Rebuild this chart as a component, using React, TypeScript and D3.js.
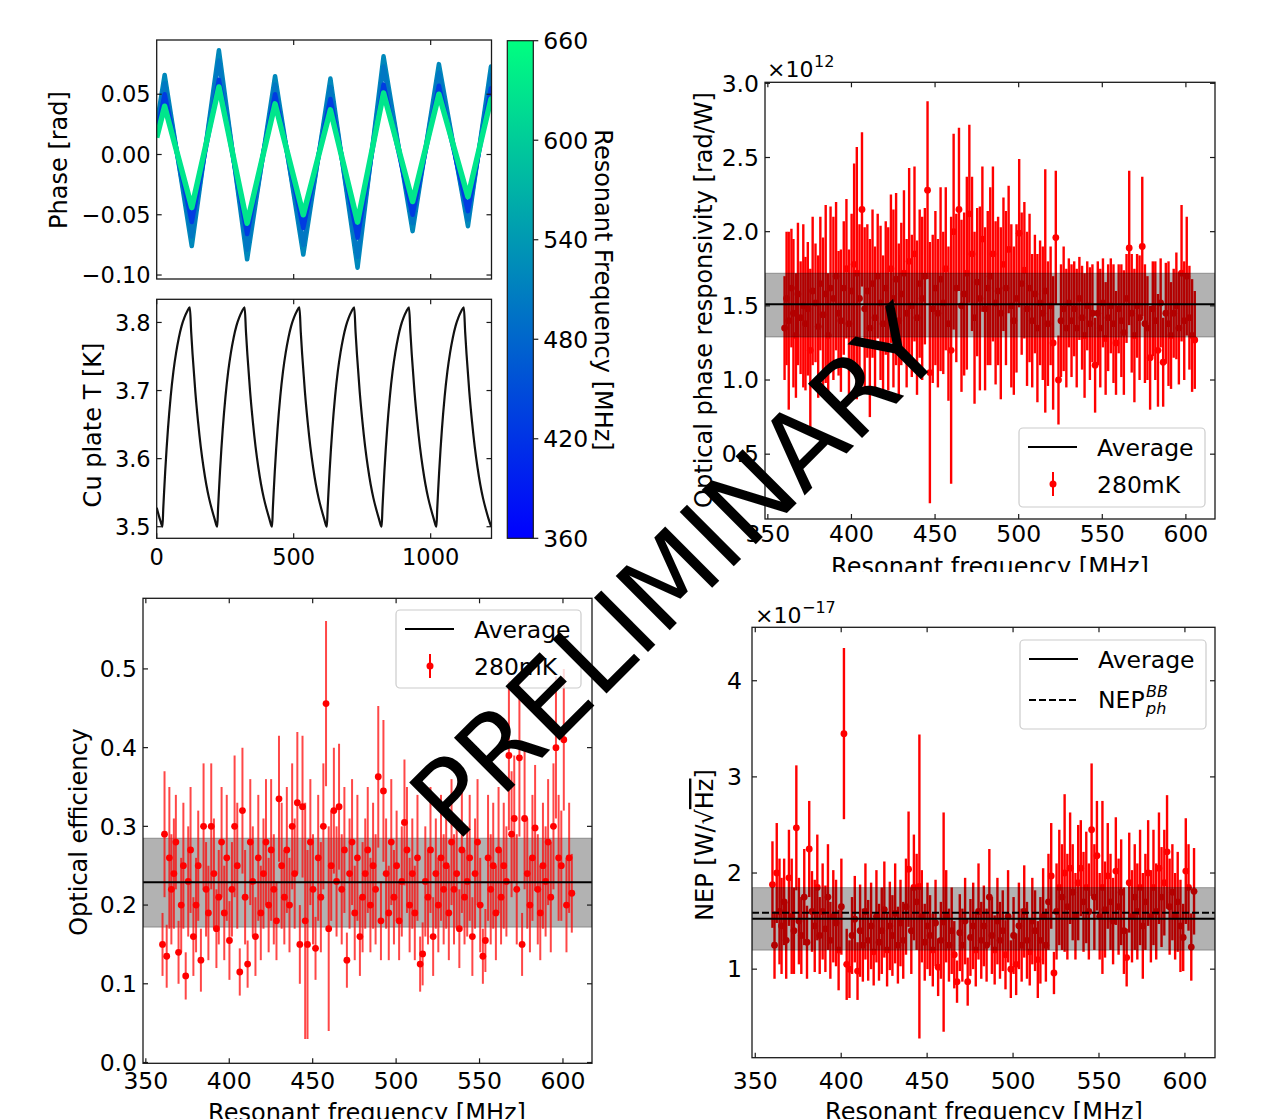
import React from 'react';
import * as d3 from 'd3';

const FONT = "'DejaVu Sans', 'Liberation Sans', sans-serif";

// ---------- Top-left: phase time stream (vertices) ----------
const PHASE_T = [0, 29, 128, 227, 330, 432, 535, 634, 733, 828, 934, 1030, 1136, 1220, 1222];
const PHASE_A = [0.025, 0.066, -0.076, 0.0865, -0.087, 0.065, -0.083, 0.063, -0.094, 0.0815, -0.0636, 0.075, -0.0595, 0.073, 0.072];
const PHASE_B = [0.022, 0.059, -0.068, 0.078, -0.079, 0.058, -0.075, 0.056, -0.085, 0.073, -0.057, 0.068, -0.054, 0.066, 0.065];
const PHASE_C = [0.018, 0.050, -0.056, 0.062, -0.066, 0.050, -0.061, 0.046, -0.069, 0.058, -0.050, 0.057, -0.047, 0.055, 0.055];
const PHASE_D = [0.014, 0.040, -0.044, 0.056, -0.057, 0.042, -0.050, 0.037, -0.056, 0.051, -0.039, 0.050, -0.035, 0.046, 0.046];
const PHASE_FREQ = [520, 500, 430, 630]; // MHz, colour of each trace

// ---------- Cu plate temperature ----------
const LEAD_T = [0, 8, 14, 21];
const LEAD_V = [3.528, 3.516, 3.508, 3.5];
const CYCLE_MIN_T = [21, 221, 421, 621, 821, 1021];
const RISE_DT = [0, 3, 6, 10, 15, 20, 30, 40, 50, 60, 70, 80, 90, 100];
const RISE_V = [3.5, 3.527, 3.551, 3.581, 3.614, 3.643, 3.691, 3.728, 3.756, 3.778, 3.795, 3.807, 3.816, 3.822];
const DECAY_DT = [0, 5, 10, 20, 30, 40, 50, 60, 70, 80, 90, 100];
const DECAY_V = [3.822, 3.785, 3.753, 3.698, 3.654, 3.617, 3.587, 3.562, 3.542, 3.526, 3.512, 3.5];

// ---------- Colour bar ----------
const CBAR_TICKS = [360, 420, 480, 540, 600, 660];

// ---------- Resonators ----------
const FREQ = [
  360.0, 361.2, 362.5, 364.1, 365.3, 366.8, 368.0, 369.6, 371.2, 372.5,
  373.9, 375.4, 376.8, 378.5, 380.1, 381.4, 383.0, 384.6, 386.1, 387.5,
  389.2, 390.8, 392.3, 393.7, 395.4, 397.0, 398.5, 400.1, 401.6, 403.2,
  404.8, 406.3, 407.9, 409.5, 411.0, 412.6, 414.1, 415.7, 417.4, 418.9,
  420.5, 422.0, 423.6, 425.1, 426.7, 428.3, 429.8, 431.4, 433.0, 434.5,
  436.1, 437.7, 439.2, 440.8, 442.3, 443.9, 445.5, 446.9, 448.6, 450.2,
  451.7, 453.3, 454.9, 456.4, 458.0, 459.6, 461.1, 462.7, 464.3, 465.8,
  467.4, 469.0, 470.5, 472.1, 473.6, 475.2, 476.8, 478.3, 479.9, 481.5,
  483.0, 484.6, 486.2, 487.7, 489.3, 490.9, 492.4, 494.0, 495.6, 497.1,
  498.7, 500.3, 501.8, 503.4, 505.0, 506.5, 508.1, 509.7, 511.2, 512.8,
  514.4, 515.9, 517.5, 519.1, 520.6, 522.2, 523.8, 525.3, 526.9, 528.5,
  530.0, 531.6, 533.2, 534.7, 536.3, 537.9, 539.4, 541.0, 542.6, 544.1,
  545.7, 547.3, 548.8, 550.4, 552.0, 553.5, 555.1, 556.7, 558.2, 559.8,
  561.4, 562.9, 564.5, 566.1, 567.6, 569.2, 570.8, 572.3, 573.9, 575.5,
  577.0, 578.6, 580.2, 581.7, 583.3, 584.9, 586.4, 588.0, 589.6, 591.1,
  592.7, 594.3, 595.8, 597.4, 599.0, 600.5, 602.1, 603.7, 605.3,
];

// responsivity, x1e12 rad/W
const RESP_VAL = [
  1.35, 1.55, 1.40, 1.62, 1.45, 1.30, 1.58, 1.42, 1.50, 1.38,
  1.48, 1.20, 1.60, 1.52, 1.36, 1.65, 1.44, 1.58, 1.30, 1.62,
  1.55, 1.70, 1.45, 1.40, 1.62, 1.75, 1.38, 1.60, 1.78, 1.72,
  1.55, 2.15, 1.48, 1.60, 1.35, 1.65, 1.42, 1.70, 1.52, 1.38,
  1.62, 1.48, 1.75, 1.55, 1.68, 1.40, 1.58, 1.72, 1.45, 1.80,
  1.50, 1.85, 1.42, 1.65, 1.55, 1.70, 2.28, 1.05, 1.48, 1.62,
  1.45, 1.68, 1.52, 1.75, 1.38, 1.20, 2.00, 1.62, 2.15, 1.50,
  1.58, 1.72, 2.12, 1.85, 1.42, 1.66, 1.55, 1.95, 1.48, 1.62,
  1.70, 1.85, 1.52, 1.60, 1.45, 1.78, 1.62, 1.88, 1.50, 1.40,
  1.55, 1.99, 1.65, 1.74, 1.48, 1.62, 1.40, 1.58, 1.35, 1.52,
  1.45, 1.60, 1.38, 1.50, 1.25, 1.96, 1.00, 1.40, 1.48, 1.35,
  1.52, 1.40, 1.48, 1.35, 1.55, 1.42, 1.30, 1.50, 1.38, 1.45,
  1.10, 1.45, 1.35, 1.52, 1.28, 1.42, 1.50, 1.38, 1.25, 1.48,
  1.40, 1.32, 1.55, 1.89, 1.45, 1.30, 1.50, 1.42, 1.90, 1.38,
  1.35, 1.15, 1.48, 1.40, 1.20, 1.52, 1.12, 1.45, 1.38, 1.30,
  1.45, 1.50, 1.35, 1.72, 1.40, 1.70, 1.42, 1.30, 1.27,
];
const RESP_ERR = [
  0.35, 0.45, 0.60, 0.40, 0.50, 0.42, 0.48, 0.38, 0.55, 0.45,
  0.45, 0.55, 0.50, 0.40, 0.48, 0.45, 0.52, 0.60, 0.42, 0.55,
  0.55, 0.50, 0.42, 0.48, 0.45, 0.47, 0.50, 0.52, 0.68, 0.85,
  0.50, 0.52, 0.55, 0.45, 0.60, 0.50, 0.48, 0.42, 0.52, 0.46,
  0.45, 0.55, 0.50, 0.60, 0.58, 0.52, 0.48, 0.56, 0.50, 0.63,
  0.48, 0.59, 0.52, 0.50, 0.55, 0.46, 0.60, 0.88, 0.50, 0.52,
  0.50, 0.62, 0.48, 0.55, 0.52, 0.90, 0.66, 0.50, 0.55, 0.58,
  0.55, 0.65, 0.60, 0.52, 0.58, 0.50, 0.62, 0.49, 0.55, 0.52,
  0.60, 0.59, 0.55, 0.50, 0.58, 0.45, 0.52, 0.43, 0.55, 0.50,
  0.50, 0.50, 0.48, 0.46, 0.52, 0.50, 0.45, 0.40, 0.50, 0.42,
  0.45, 0.82, 0.42, 0.40, 0.45, 0.45, 0.30, 0.38, 0.42, 0.40,
  0.30, 0.38, 0.32, 0.40, 0.28, 0.35, 0.42, 0.30, 0.38, 0.33,
  0.32, 0.35, 0.40, 0.30, 0.38, 0.36, 0.32, 0.40, 0.35, 0.30,
  0.38, 0.42, 0.30, 0.52, 0.40, 0.45, 0.35, 0.42, 0.47, 0.40,
  0.35, 0.35, 0.32, 0.40, 0.38, 0.30, 0.30, 0.34, 0.42, 0.36,
  0.30, 0.36, 0.38, 0.46, 0.40, 0.40, 0.35, 0.38, 0.33,
];
const RESP_AVG = 1.51;
const RESP_BAND = [1.29, 1.72];

// optical efficiency
const EFF_VAL = [
  0.15, 0.29, 0.135, 0.26, 0.22, 0.24, 0.28, 0.14, 0.20, 0.25,
  0.11, 0.23, 0.27, 0.16, 0.20, 0.25, 0.13, 0.30, 0.22, 0.19,
  0.30, 0.24, 0.17, 0.21, 0.28, 0.19, 0.26, 0.155, 0.22, 0.30,
  0.25, 0.115, 0.32, 0.21, 0.125, 0.28, 0.23, 0.16, 0.26, 0.19,
  0.24, 0.28, 0.20, 0.27, 0.22, 0.18, 0.335, 0.25, 0.21, 0.27,
  0.20, 0.30, 0.24, 0.33, 0.15, 0.325, 0.18, 0.15, 0.28, 0.22,
  0.145, 0.26, 0.21, 0.30, 0.456, 0.17, 0.25, 0.32, 0.23, 0.325,
  0.22, 0.27, 0.13, 0.24, 0.28, 0.19, 0.26, 0.16, 0.21, 0.24,
  0.27, 0.20, 0.25, 0.22, 0.363, 0.18, 0.345, 0.24, 0.19, 0.28,
  0.21, 0.25, 0.18, 0.23, 0.305, 0.27, 0.20, 0.24, 0.19, 0.26,
  0.125, 0.138, 0.23, 0.21, 0.27, 0.16, 0.24, 0.20, 0.26, 0.22,
  0.25, 0.19, 0.28, 0.22, 0.24, 0.17, 0.27, 0.21, 0.23, 0.26,
  0.16, 0.24, 0.28, 0.20, 0.135, 0.155, 0.26, 0.22, 0.25, 0.19,
  0.27, 0.21, 0.25, 0.23, 0.39, 0.29, 0.31, 0.22, 0.387, 0.15,
  0.31, 0.24, 0.20, 0.26, 0.298, 0.22, 0.19, 0.25, 0.23, 0.28,
  0.21, 0.30, 0.40, 0.26, 0.25, 0.41, 0.20, 0.26, 0.215,
];
const EFF_ERR = [
  0.04, 0.08, 0.04, 0.09, 0.07, 0.07, 0.06, 0.04, 0.06, 0.08,
  0.03, 0.07, 0.08, 0.05, 0.06, 0.07, 0.04, 0.08, 0.06, 0.06,
  0.08, 0.07, 0.05, 0.06, 0.07, 0.06, 0.08, 0.05, 0.06, 0.09,
  0.08, 0.03, 0.08, 0.06, 0.03, 0.08, 0.07, 0.05, 0.08, 0.06,
  0.07, 0.08, 0.06, 0.09, 0.07, 0.05, 0.08, 0.08, 0.06, 0.08,
  0.06, 0.08, 0.07, 0.09, 0.05, 0.09, 0.15, 0.12, 0.08, 0.07,
  0.04, 0.08, 0.07, 0.08, 0.105, 0.13, 0.07, 0.08, 0.07, 0.08,
  0.07, 0.08, 0.035, 0.07, 0.08, 0.06, 0.08, 0.05, 0.07, 0.07,
  0.08, 0.06, 0.08, 0.07, 0.09, 0.05, 0.09, 0.07, 0.06, 0.08,
  0.06, 0.07, 0.05, 0.07, 0.08, 0.08, 0.06, 0.07, 0.06, 0.08,
  0.035, 0.04, 0.07, 0.06, 0.08, 0.05, 0.07, 0.06, 0.08, 0.07,
  0.08, 0.06, 0.08, 0.07, 0.07, 0.05, 0.08, 0.06, 0.07, 0.08,
  0.05, 0.07, 0.08, 0.06, 0.035, 0.04, 0.08, 0.07, 0.08, 0.06,
  0.08, 0.06, 0.08, 0.07, 0.095, 0.08, 0.08, 0.07, 0.10, 0.04,
  0.09, 0.07, 0.06, 0.08, 0.08, 0.07, 0.06, 0.08, 0.07, 0.08,
  0.07, 0.08, 0.09, 0.08, 0.07, 0.09, 0.06, 0.07, 0.05,
];
const EFF_AVG = 0.229;
const EFF_BAND = [0.172, 0.285];

// NEP, x1e-17 W/sqrt(Hz)
const NEP_VAL = [
  1.88, 1.25, 2.00, 1.60, 1.45, 1.70, 1.30, 1.95, 1.55, 1.40,
  2.47, 1.50, 1.35, 1.75, 1.28, 2.25, 1.60, 1.45, 1.85, 1.35,
  1.60, 1.42, 1.75, 1.30, 1.55, 1.48, 1.20, 1.65, 3.45, 1.05,
  1.00, 1.35, 1.52, 0.98, 1.40, 1.25, 1.60, 1.30, 1.45, 1.18,
  1.55, 1.28, 1.40, 1.62, 1.20, 1.45, 1.35, 1.58, 1.25, 1.48,
  1.30, 1.65, 2.04, 1.40, 1.85, 1.70, 1.86, 1.55, 1.28, 1.45,
  1.35, 1.20, 1.48, 1.02, 1.30, 1.49, 1.55, 1.25, 1.40, 1.15,
  0.87, 1.38, 1.25, 1.50, 0.87, 1.33, 1.45, 1.20, 1.60, 1.30,
  1.45, 1.25, 1.75, 1.35, 1.20, 1.50, 1.30, 1.40, 1.15, 1.55,
  1.00, 1.35, 1.05, 1.45, 1.25, 1.60, 1.30, 1.18, 1.50, 1.40,
  1.10, 1.30, 1.55, 1.25, 1.70, 1.97, 0.96, 1.60, 1.85, 1.75,
  2.00, 1.65, 2.05, 1.80, 1.55, 1.90, 2.05, 1.70, 1.85, 1.60,
  2.45, 1.75, 2.18, 1.55, 1.85, 1.62, 1.97, 1.70, 1.50, 2.02,
  1.65, 1.80, 1.40, 1.12, 1.90, 1.55, 1.75, 1.60, 1.85, 1.45,
  1.70, 2.00, 1.55, 1.85, 1.60, 2.05, 1.75, 1.90, 2.22, 1.65,
  1.80, 1.55, 1.70, 1.45, 1.33, 2.02, 1.85, 1.23, 1.81,
];
const NEP_ERR = [
  0.45, 0.35, 0.52, 0.55, 0.50, 0.45, 0.40, 0.50, 0.60, 0.45,
  0.65, 0.45, 0.40, 0.50, 0.38, 0.50, 0.42, 0.48, 0.55, 0.40,
  0.50, 0.45, 0.55, 0.40, 0.48, 0.45, 0.42, 0.50, 0.89, 0.37,
  0.30, 0.40, 0.45, 0.30, 0.48, 0.38, 0.50, 0.42, 0.45, 0.35,
  0.48, 0.40, 0.45, 0.50, 0.38, 0.46, 0.42, 0.52, 0.40, 0.45,
  0.40, 0.50, 0.60, 0.45, 0.55, 0.50, 1.58, 0.48, 0.40, 0.45,
  0.42, 0.38, 0.45, 0.30, 0.40, 1.14, 0.48, 0.38, 0.45, 0.35,
  0.22, 0.40, 0.38, 0.45, 0.25, 0.40, 0.45, 0.38, 0.50, 0.40,
  0.42, 0.38, 0.50, 0.40, 0.36, 0.45, 0.40, 0.42, 0.36, 0.48,
  0.30, 0.40, 0.32, 0.45, 0.38, 0.48, 0.40, 0.35, 0.45, 0.42,
  0.40, 0.45, 0.50, 0.38, 0.50, 0.55, 0.22, 0.50, 0.60, 0.55,
  0.82, 0.55, 0.58, 0.50, 0.45, 0.60, 0.50, 0.52, 0.58, 0.50,
  0.69, 0.55, 0.57, 0.45, 0.90, 0.50, 0.55, 0.50, 0.45, 0.56,
  0.50, 0.55, 0.45, 0.30, 0.52, 0.48, 0.55, 0.50, 0.60, 0.55,
  0.50, 0.55, 0.48, 0.60, 0.50, 0.58, 0.52, 0.55, 0.59, 0.50,
  0.50, 0.45, 0.52, 0.48, 0.35, 0.55, 0.45, 0.35, 0.45,
];
const NEP_AVG = 1.524;
const NEP_PH = 1.586;
const NEP_BAND = [1.198, 1.848];

const FREQ_TICKS = [350, 400, 450, 500, 550, 600];

// winter colormap
const winter = (f: number) => {
  const t = Math.max(0, Math.min(1, (f - 360) / 300));
  return d3.rgb(0, Math.round(255 * t), Math.round(255 * (1 - t / 2))).formatHex();
};

const FRAME = '#1a1a1a';
const TL = 5;
const LAB = 24;

function Ticks({ x0, x1, y0, y1, xs, ys, xTicks, yTicks }: any) {
  return (
    <g stroke={FRAME} strokeWidth={1.2}>
      {xTicks.map((t: number) => (
        <g key={'x' + t}>
          <line x1={xs(t)} x2={xs(t)} y1={y1} y2={y1 - TL} />
          <line x1={xs(t)} x2={xs(t)} y1={y0} y2={y0 + TL} />
        </g>
      ))}
      {yTicks.map((t: number) => (
        <g key={'y' + t}>
          <line x1={x0} x2={x0 + TL} y1={ys(t)} y2={ys(t)} />
          <line x1={x1} x2={x1 - TL} y1={ys(t)} y2={ys(t)} />
        </g>
      ))}
      <rect x={x0} y={y0} width={x1 - x0} height={y1 - y0} fill="none" strokeWidth={1.3} />
    </g>
  );
}

function ErrPanel(p: any) {
  const { x0, x1, y0, y1, xDomain, yDomain, yTicks, yFmt, vals, errs, band, avg, bandOnTop, barOpacity, barWidth, dashed, id, xLabBase, yLabEnd, fs } = p;
  const xs = d3.scaleLinear().domain(xDomain).range([x0, x1]);
  const ys = d3.scaleLinear().domain(yDomain).range([y1, y0]);
  const n = Math.min(FREQ.length, vals.length, errs.length);
  const pts = d3.range(n).map((i) => ({ f: FREQ[i], v: vals[i], e: errs[i] }));
  const bandEl = (
    <rect x={x0} width={x1 - x0} y={ys(band[1])} height={ys(band[0]) - ys(band[1])} fill="#000" fillOpacity={0.3} stroke="#000" strokeOpacity={0.3} strokeWidth={1} />
  );
  return (
    <g>
      <defs>
        <clipPath id={id}>
          <rect x={x0} y={y0} width={x1 - x0} height={y1 - y0} />
        </clipPath>
      </defs>
      <g clipPath={`url(#${id})`}>
        {!bandOnTop && bandEl}
        <g stroke="#ff0000" strokeWidth={barWidth} strokeOpacity={barOpacity}>
          {pts.map((d, i) => (
            <line key={i} x1={xs(d.f)} x2={xs(d.f)} y1={ys(d.v - d.e)} y2={ys(d.v + d.e)} />
          ))}
        </g>
        <g fill="#ff0000">
          {pts.map((d, i) => (
            <circle key={i} cx={xs(d.f)} cy={ys(d.v)} r={3.4} />
          ))}
        </g>
        {bandOnTop && bandEl}
        {dashed !== undefined && (
          <line x1={x0} x2={x1} y1={ys(dashed)} y2={ys(dashed)} stroke="#000" strokeWidth={2} strokeDasharray="7,3" />
        )}
        <line x1={x0} x2={x1} y1={ys(avg)} y2={ys(avg)} stroke="#000" strokeWidth={2} />
      </g>
      <Ticks x0={x0} x1={x1} y0={y0} y1={y1} xs={xs} ys={ys} xTicks={FREQ_TICKS} yTicks={yTicks} />
      <g fontSize={fs} fill="#000">
        {FREQ_TICKS.map((t) => (
          <text key={t} x={xs(t)} y={xLabBase} textAnchor="middle">{t}</text>
        ))}
        {yTicks.map((t: number) => (
          <text key={t} x={yLabEnd} y={ys(t) + 8.3} textAnchor="end">{yFmt(t)}</text>
        ))}
      </g>
    </g>
  );
}

function Legend({ x, y, w, h, second }: any) {
  return (
    <g>
      <rect x={x} y={y} width={w} height={h} rx={4} fill="#fff" fillOpacity={0.8} stroke="#cccccc" strokeWidth={1.2} />
      <line x1={x + 9} x2={x + 58} y1={y + 19} y2={y + 19} stroke="#000" strokeWidth={2} />
      <text x={x + 78} y={y + 27.5} fontSize={23.5}>Average</text>
      {second === 'err' ? (
        <g>
          <line x1={x + 34} x2={x + 34} y1={y + 44} y2={y + 68} stroke="#ff0000" strokeWidth={2} />
          <circle cx={x + 34} cy={y + 56} r={3.5} fill="#ff0000" />
          <text x={x + 78} y={y + 64.5} fontSize={23.5}>280mK</text>
        </g>
      ) : (
        <g>
          <line x1={x + 9} x2={x + 58} y1={y + 60} y2={y + 60} stroke="#000" strokeWidth={2} strokeDasharray="7,3" />
          <text x={x + 78} y={y + 68} fontSize={23.5}>NEP</text>
          <text x={x + 126} y={y + 57} fontSize={16} fontStyle="italic">BB</text>
          <text x={x + 126} y={y + 74} fontSize={16} fontStyle="italic">ph</text>
        </g>
      )}
    </g>
  );
}

export default function App() {
  // ----- top-left panels -----
  const px0 = 156.7, px1 = 491.5;
  const txs = d3.scaleLinear().domain([0, 1222]).range([px0, px1]);
  const phY0 = 40, phY1 = 279;
  const phys = d3.scaleLinear().domain([-0.1033, 0.095]).range([phY1, phY0]);
  const cuY0 = 299.3, cuY1 = 538.3;
  const cuys = d3.scaleLinear().domain([3.483, 3.834]).range([cuY1, cuY0]);

  const phaseLine = d3.line<[number, number]>().x((d) => txs(d[0])).y((d) => phys(d[1]));
  const traces = [PHASE_A, PHASE_B, PHASE_C, PHASE_D];

  const tPts: [number, number][] = [];
  LEAD_T.forEach((t, i) => tPts.push([t, LEAD_V[i]]));
  CYCLE_MIN_T.forEach((t0) => {
    RISE_DT.forEach((dt, i) => tPts.push([t0 + dt, RISE_V[i]]));
    const tp = t0 + RISE_DT[RISE_DT.length - 1];
    DECAY_DT.forEach((dt, i) => { if (i > 0) tPts.push([tp + dt, DECAY_V[i]]); });
  });
  const tLine = d3.line<[number, number]>().x((d) => txs(d[0])).y((d) => cuys(d[1])).curve(d3.curveMonotoneX);

  const cbX0 = 507.3, cbX1 = 533.3, cbY0 = 40.7, cbY1 = 538.3;
  const cbys = d3.scaleLinear().domain([360, 660]).range([cbY1, cbY0]);

  const minus = (s: string) => s.replace('-', '\u2212');

  return (
    <svg width={1263} height={1119} style={{ position: 'absolute', left: 0, top: 0, background: '#fff' }} fontFamily={FONT}>
      <rect x={0} y={0} width={1263} height={1119} fill="#fff" />
      <defs>
        <clipPath id="clipPhase"><rect x={px0} y={phY0} width={px1 - px0} height={phY1 - phY0} /></clipPath>
        <clipPath id="clipCu"><rect x={px0} y={cuY0} width={px1 - px0} height={cuY1 - cuY0} /></clipPath>
        <clipPath id="clipTRlab"><rect x={600} y={540} width={663} height={32} /></clipPath>
        <linearGradient id="winterGrad" x1="0" y1="1" x2="0" y2="0">
          <stop offset="0" stopColor={winter(360)} />
          <stop offset="1" stopColor={winter(660)} />
        </linearGradient>
      </defs>

      {/* Phase panel */}
      <g clipPath="url(#clipPhase)">
        {traces.map((tr, k) => (
          <path key={k} d={phaseLine(PHASE_T.map((t, i) => [t, tr[i]]) as [number, number][]) || ''}
            fill="none" stroke={winter(PHASE_FREQ[k])} strokeWidth={k === 3 ? 5.5 : 4.5} strokeLinejoin="round" />
        ))}
      </g>
      <Ticks x0={px0} x1={px1} y0={phY0} y1={phY1} xs={txs} ys={phys} xTicks={[500, 1000]} yTicks={[-0.1, -0.05, 0, 0.05]} />
      <g fontSize={22.5}>
        {[-0.1, -0.05, 0, 0.05].map((t) => (
          <text key={t} x={px0 - 6} y={phys(t) + 8.2} textAnchor="end">{minus(t.toFixed(2))}</text>
        ))}
      </g>
      <text transform="translate(67,160) rotate(-90)" textAnchor="middle" fontSize={LAB}>Phase [rad]</text>

      {/* Cu plate panel */}
      <g clipPath="url(#clipCu)">
        <path d={tLine(tPts) || ''} fill="none" stroke="#111" strokeWidth={2.2} />
      </g>
      <Ticks x0={px0} x1={px1} y0={cuY0} y1={cuY1} xs={txs} ys={cuys} xTicks={[0, 500, 1000]} yTicks={[3.5, 3.6, 3.7, 3.8]} />
      <g fontSize={22.5}>
        {[3.5, 3.6, 3.7, 3.8].map((t) => (
          <text key={t} x={px0 - 6} y={cuys(t) + 8.2} textAnchor="end">{t.toFixed(1)}</text>
        ))}
        {[0, 500, 1000].map((t) => (
          <text key={t} x={txs(t)} y={564.5} textAnchor="middle">{t}</text>
        ))}
      </g>
      <text transform="translate(101,425) rotate(-90)" textAnchor="middle" fontSize={LAB}>Cu plate T [K]</text>

      {/* Colour bar */}
      <rect x={cbX0} y={cbY0} width={cbX1 - cbX0} height={cbY1 - cbY0} fill="url(#winterGrad)" stroke={FRAME} strokeWidth={1.2} />
      <g stroke={FRAME} strokeWidth={1.2}>
        {CBAR_TICKS.map((t) => (
          <line key={t} x1={cbX1} x2={cbX1 + 5} y1={cbys(t)} y2={cbys(t)} />
        ))}
      </g>
      <g fontSize={23.5}>
        {CBAR_TICKS.map((t) => (
          <text key={t} x={cbX1 + 10} y={cbys(t) + 8.5}>{t}</text>
        ))}
      </g>
      <text transform="translate(595,290) rotate(90)" textAnchor="middle" fontSize={LAB}>Resonant Frequency [MHz]</text>

      {/* Top-right: responsivity */}
      <ErrPanel id="cTR" x0={765} x1={1215} y0={82.3} y1={519} xDomain={[348.3, 617.4]} yDomain={[0.063, 3.007]}
        yTicks={[0.5, 1.0, 1.5, 2.0, 2.5, 3.0]} yFmt={(v: number) => v.toFixed(1)} vals={RESP_VAL} errs={RESP_ERR}
        band={RESP_BAND} avg={RESP_AVG} bandOnTop={true} barOpacity={1} barWidth={2.4} xLabBase={542} yLabEnd={759} fs={23.5} />
      <Legend x={1019} y={428} w={186} h={79} second="err" />
      <text x={767} y={77} fontSize={22}>×10</text>
      <text x={814} y={67} fontSize={16}>12</text>
      <text transform="translate(712,300) rotate(-90)" textAnchor="middle" fontSize={LAB}>Optical phase responsivity [rad/W]</text>
      <g clipPath="url(#clipTRlab)">
        <text x={990} y={575} textAnchor="middle" fontSize={LAB}>Resonant frequency [MHz]</text>
      </g>

      {/* Bottom-left: optical efficiency */}
      <ErrPanel id="cBL" x0={143} x1={592} y0={598.3} y1={1063.3} xDomain={[348.3, 617.4]} yDomain={[-0.001, 0.5897]}
        yTicks={[0, 0.1, 0.2, 0.3, 0.4, 0.5]} yFmt={(v: number) => v.toFixed(1)} vals={EFF_VAL} errs={EFF_ERR}
        band={EFF_BAND} avg={EFF_AVG} bandOnTop={false} barOpacity={0.72} barWidth={2} xLabBase={1089} yLabEnd={137} fs={23.5} />
      <Legend x={396} y={610} w={185} h={78} second="err" />
      <text transform="translate(87,832) rotate(-90)" textAnchor="middle" fontSize={LAB}>Optical efficiency</text>
      <text x={367} y={1121} textAnchor="middle" fontSize={LAB}>Resonant frequency [MHz]</text>

      {/* Bottom-right: NEP */}
      <ErrPanel id="cBR" x0={752} x1={1215} y0={627.3} y1={1057.7} xDomain={[348.1, 617.5]} yDomain={[0.079, 4.556]}
        yTicks={[1, 2, 3, 4]} yFmt={(v: number) => String(v)} vals={NEP_VAL} errs={NEP_ERR}
        band={NEP_BAND} avg={NEP_AVG} dashed={NEP_PH} bandOnTop={true} barOpacity={1} barWidth={2.4} xLabBase={1088.5} yLabEnd={742} fs={23.5} />
      <Legend x={1020} y={640} w={186} h={89} second="nep" />
      <text x={755} y={623} fontSize={22}>×10</text>
      <text x={802} y={613} fontSize={16}>−17</text>
      <text transform="translate(713,845) rotate(-90)" textAnchor="middle" fontSize={LAB}>
        <tspan>NEP [W/√</tspan><tspan style={{ textDecoration: 'overline' }}>Hz</tspan><tspan>]</tspan>
      </text>
      <text x={984} y={1120} textAnchor="middle" fontSize={LAB}>Resonant frequency [MHz]</text>

      {/* watermark */}
      <text transform="translate(456,844) rotate(-45)" fontSize={105} fill="#000">PRELIMINARY</text>
    </svg>
  );
}
